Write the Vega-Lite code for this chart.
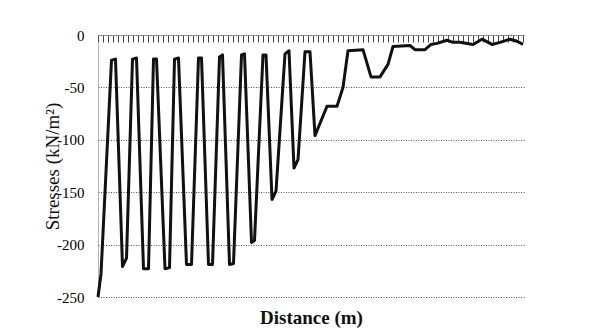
{
  "$schema": "https://vega.github.io/schema/vega-lite/v6.json",
  "width": 426,
  "height": 262,
  "autosize": {"type": "none"},
  "padding": {"left": 98, "top": 35, "right": 86, "bottom": 36},
  "background": "white",
  "config": {"view": {"stroke": null}, "font": "Liberation Serif"},
  "data": {"values": [
    {"d": 0, "s": -250}, {"d": 0.6, "s": -228}, {"d": 2.7, "s": -24}, {"d": 3.5, "s": -23},
    {"d": 4.9, "s": -221}, {"d": 5.7, "s": -213}, {"d": 6.9, "s": -23}, {"d": 7.7, "s": -22},
    {"d": 9.1, "s": -223}, {"d": 10.1, "s": -223}, {"d": 11.1, "s": -23}, {"d": 11.7, "s": -23},
    {"d": 13.4, "s": -223}, {"d": 14.3, "s": -222}, {"d": 15.3, "s": -23}, {"d": 16.1, "s": -22},
    {"d": 17.7, "s": -219}, {"d": 18.7, "s": -219}, {"d": 20.1, "s": -22}, {"d": 20.7, "s": -22},
    {"d": 22.1, "s": -219}, {"d": 22.9, "s": -219}, {"d": 24.3, "s": -21}, {"d": 24.9, "s": -19},
    {"d": 26.3, "s": -219}, {"d": 27.1, "s": -218}, {"d": 28.7, "s": -19}, {"d": 29.3, "s": -18},
    {"d": 30.7, "s": -198}, {"d": 31.3, "s": -196}, {"d": 33.0, "s": -19}, {"d": 33.6, "s": -19},
    {"d": 34.8, "s": -157}, {"d": 35.6, "s": -149}, {"d": 37.4, "s": -18}, {"d": 38.2, "s": -15},
    {"d": 39.2, "s": -127}, {"d": 40.0, "s": -119}, {"d": 41.4, "s": -16}, {"d": 42.4, "s": -16},
    {"d": 43.4, "s": -96}, {"d": 45.8, "s": -68}, {"d": 47.8, "s": -68}, {"d": 49.0, "s": -50},
    {"d": 50.0, "s": -15}, {"d": 53.0, "s": -14}, {"d": 54.6, "s": -40}, {"d": 56.4, "s": -40},
    {"d": 58.0, "s": -28}, {"d": 59.0, "s": -11}, {"d": 62.4, "s": -10}, {"d": 63.4, "s": -14},
    {"d": 65.4, "s": -14}, {"d": 66.6, "s": -9}, {"d": 67.8, "s": -8}, {"d": 69.8, "s": -5},
    {"d": 71.0, "s": -7}, {"d": 72.4, "s": -7}, {"d": 75.0, "s": -9}, {"d": 76.8, "s": -4},
    {"d": 78.8, "s": -9}, {"d": 80.4, "s": -7}, {"d": 82.4, "s": -4}, {"d": 83.8, "s": -6},
    {"d": 85.0, "s": -9}
  ]},
  "layer": [
    {
      "mark": {"type": "line", "color": "#111", "strokeWidth": 3, "strokeJoin": "round"},
      "encoding": {
        "x": {
          "field": "d", "type": "quantitative",
          "scale": {"domain": [0, 85.2], "nice": false, "zero": false},
          "axis": {
            "orient": "top", "title": null, "labels": false, "grid": false,
            "tickCount": 85, "tickSize": -7, "tickColor": "#444", "tickWidth": 1,
            "domainColor": "#666", "domainDash": [1, 1]
          }
        },
        "y": {
          "field": "s", "type": "quantitative",
          "scale": {"domain": [-250, 0], "nice": false},
          "axis": {
            "values": [0, -50, -100, -150, -200, -250],
            "labelExpr": "datum.value == 0 ? '0' : '-' + abs(datum.value)",
            "labelFont": "Liberation Serif", "labelFontSize": 15, "labelColor": "#000",
            "labelPadding": 14, "ticks": false,
            "domainColor": "#666", "domainDash": [1, 1],
            "grid": true, "gridColor": "#555", "gridDash": [1, 1.5], "gridWidth": 1,
            "title": "Stresses (kN/m²)", "titleFont": "Liberation Serif", "titleFontSize": 19,
            "titleFontWeight": "normal", "titleColor": "#111", "titlePadding": -6
          }
        }
      }
    },
    {
      "mark": {"type": "line", "strokeOpacity": 0},
      "encoding": {
        "x": {
          "field": "d", "type": "quantitative",
          "axis": {
            "orient": "bottom", "title": "Distance (m)", "labels": false, "ticks": false,
            "domain": false, "grid": false, "titleFont": "Liberation Serif",
            "titleFontSize": 19, "titleFontWeight": "bold", "titleColor": "#111", "titlePadding": 11
          }
        },
        "y": {"field": "s", "type": "quantitative"}
      }
    }
  ],
  "resolve": {"scale": {"x": "shared"}, "axis": {"x": "independent"}}
}
